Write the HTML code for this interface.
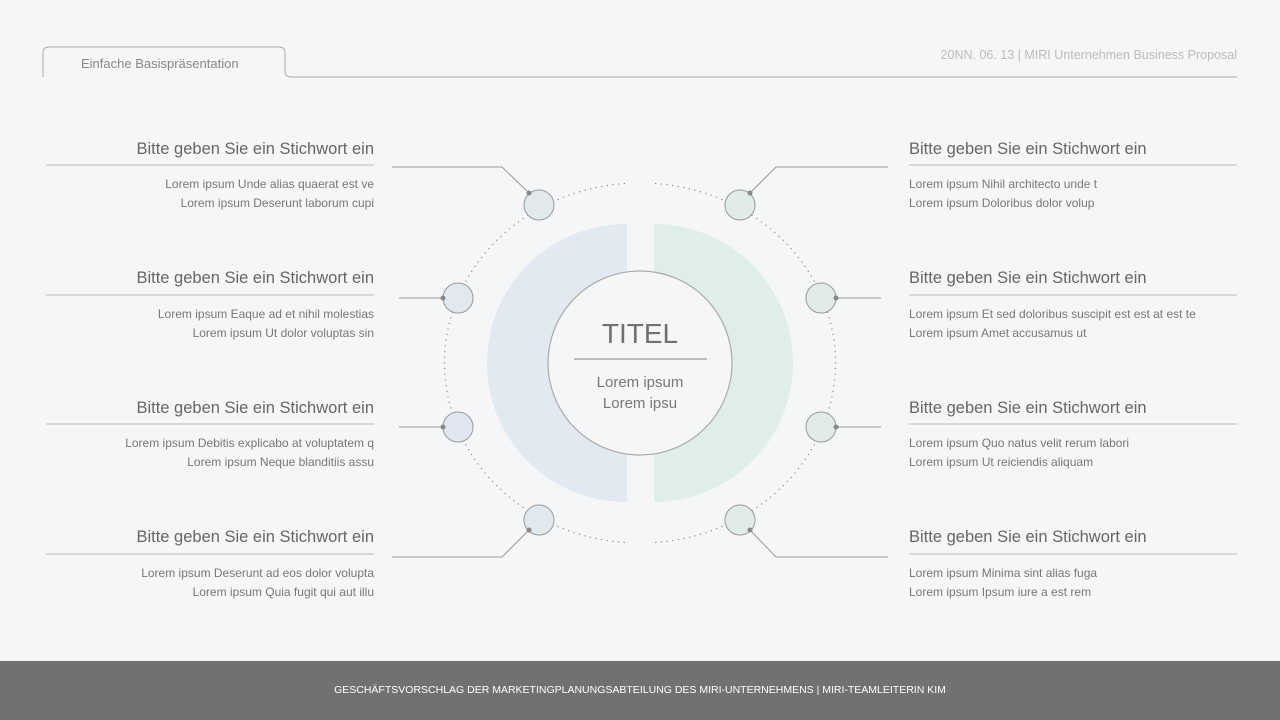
<!DOCTYPE html>
<html><head><meta charset="utf-8"><style>
body{margin:0;width:1280px;height:720px;background:#f5f6f7;font-family:"Liberation Sans",sans-serif;position:relative;overflow:hidden}
.t{position:absolute;white-space:nowrap}
.h{font-size:16.5px;color:#666}
.s{font-size:12px;color:#777;line-height:18.5px}
.l{text-align:right}
</style></head><body>
<svg width="1280" height="720" style="position:absolute;left:0;top:0">
<path d="M43,77 V53 Q43,47 49,47 H279 Q285,47 285,53 V71 Q285,77 291,77 H1237" fill="none" stroke="#aaa" stroke-width="1"/>
<defs>
<clipPath id="cl"><rect x="0" y="0" width="627" height="720"/></clipPath>
<clipPath id="cr"><rect x="654" y="0" width="700" height="720"/></clipPath>
</defs>
<circle cx="626" cy="363" r="139" fill="#e3e9f1" clip-path="url(#cl)"/>
<circle cx="654" cy="363" r="139" fill="#e0eeeb" clip-path="url(#cr)"/>
<path d="M625,183.5 A195,180 0 0,0 625,542.5" fill="none" stroke="#888" stroke-width="1.2" stroke-dasharray="1.2 4.5"/>
<path d="M655,183.5 A195,180 0 0,1 655,542.5" fill="none" stroke="#888" stroke-width="1.2" stroke-dasharray="1.2 4.5"/>
<g fill="none" stroke="#bbb" stroke-width="1">
<path d="M46,165H374M46,295H374M46,424H374M46,554H374M909,165H1237M909,295H1237M909,424H1237M909,554H1237"/>
</g>
<g fill="none" stroke="#999" stroke-width="1">
<path d="M392,167H502L529,193M399,298H443M399,427H443M392,557H502L529,530"/>
<path d="M888,167H776L750,193M881,298H836M881,427H836M888,557H776L750,530"/>
</g>
<g stroke="#999" stroke-width="1">
<circle cx="539" cy="205" r="15" fill="#e1e9ec"/><circle cx="740" cy="205" r="15" fill="#e1ecea"/>
<circle cx="458" cy="298" r="15" fill="#e1e8ee"/><circle cx="821" cy="298" r="15" fill="#e1ecea"/>
<circle cx="458" cy="427" r="15" fill="#e1e7f0"/><circle cx="821" cy="427" r="15" fill="#e1ecea"/>
<circle cx="539" cy="520" r="15" fill="#e1e8ee"/><circle cx="740" cy="520" r="15" fill="#e1ecea"/>
</g>
<g fill="#888"><circle cx="529" cy="193" r="2.5"/><circle cx="443" cy="298" r="2.5"/><circle cx="443" cy="427" r="2.5"/><circle cx="529" cy="530" r="2.5"/><circle cx="750" cy="193" r="2.5"/><circle cx="836" cy="298" r="2.5"/><circle cx="836" cy="427" r="2.5"/><circle cx="750" cy="530" r="2.5"/></g>
<circle cx="640" cy="363" r="92" fill="#f5f6f8" stroke="#aaa" stroke-width="1.2"/>
<line x1="574" y1="359" x2="707" y2="359" stroke="#999" stroke-width="1.2"/>
<text x="640" y="343" text-anchor="middle" font-size="28" fill="#707070" font-family="Liberation Sans">TITEL</text>
<text x="640" y="387" text-anchor="middle" font-size="15" fill="#777" font-family="Liberation Sans">Lorem ipsum</text>
<text x="640" y="408" text-anchor="middle" font-size="15" fill="#777" font-family="Liberation Sans">Lorem ipsu</text>
</svg>
<div class="t" style="left:81px;top:56px;font-size:13px;color:#888">Einfache Basispräsentation</div>
<div class="t" style="right:43px;top:48px;font-size:12.5px;color:#bbb">20NN. 06. 13 | MIRI Unternehmen Business Proposal</div>

<div class="t h l" style="right:906px;top:140px">Bitte geben Sie ein Stichwort ein</div>
<div class="t s l" style="right:906px;top:175px">Lorem ipsum Unde alias quaerat est ve<br>Lorem ipsum Deserunt laborum cupi</div>
<div class="t h l" style="right:906px;top:269px">Bitte geben Sie ein Stichwort ein</div>
<div class="t s l" style="right:906px;top:305px">Lorem ipsum Eaque ad et nihil molestias<br>Lorem ipsum Ut dolor voluptas sin</div>
<div class="t h l" style="right:906px;top:399px">Bitte geben Sie ein Stichwort ein</div>
<div class="t s l" style="right:906px;top:434px">Lorem ipsum Debitis explicabo at voluptatem q<br>Lorem ipsum Neque blanditiis assu</div>
<div class="t h l" style="right:906px;top:528px">Bitte geben Sie ein Stichwort ein</div>
<div class="t s l" style="right:906px;top:564px">Lorem ipsum Deserunt ad eos dolor volupta<br>Lorem ipsum Quia fugit qui aut illu</div>

<div class="t h" style="left:909px;top:140px">Bitte geben Sie ein Stichwort ein</div>
<div class="t s" style="left:909px;top:175px">Lorem ipsum Nihil architecto unde t<br>Lorem ipsum Doloribus dolor volup</div>
<div class="t h" style="left:909px;top:269px">Bitte geben Sie ein Stichwort ein</div>
<div class="t s" style="left:909px;top:305px">Lorem ipsum Et sed doloribus suscipit est est at est te<br>Lorem ipsum Amet accusamus ut</div>
<div class="t h" style="left:909px;top:399px">Bitte geben Sie ein Stichwort ein</div>
<div class="t s" style="left:909px;top:434px">Lorem ipsum Quo natus velit rerum labori<br>Lorem ipsum Ut reiciendis aliquam</div>
<div class="t h" style="left:909px;top:528px">Bitte geben Sie ein Stichwort ein</div>
<div class="t s" style="left:909px;top:564px">Lorem ipsum Minima sint alias fuga<br>Lorem ipsum Ipsum iure a est rem</div>

<div style="position:absolute;left:0;top:661px;width:1280px;height:59px;background:#717171;color:#fff;font-size:10.5px;text-align:center;line-height:59px">GESCHÄFTSVORSCHLAG DER MARKETINGPLANUNGSABTEILUNG DES MIRI-UNTERNEHMENS | MIRI-TEAMLEITERIN KIM</div>
</body></html>
